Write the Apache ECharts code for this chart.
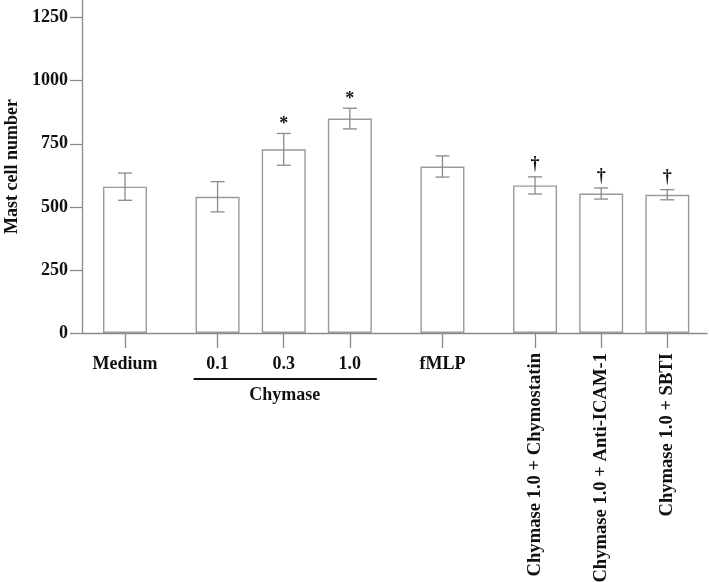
<!DOCTYPE html>
<html>
<head>
<meta charset="utf-8">
<script src="https://cdn.jsdelivr.net/npm/echarts@6/dist/echarts.min.js"></script>
<style>html,body{margin:0;padding:0;background:#fff}#c{width:709px;height:582px}</style>
</head>
<body>
<div id="c"></div>
<script>
// ---- data ----
const categories = ['Medium', '0.1', '0.3', '1.0', 'fMLP',
  'Chymase 1.0 + Chymostatin', 'Chymase 1.0 + Anti-ICAM-1', 'Chymase 1.0 + SBTI'];
const means  = [580, 540, 728, 850, 660, 585, 553, 548];
const errors = [54, 60, 63, 41, 42, 34, 22, 20];
const marks  = ['', '', '*', '*', '', '†', '†', '†'];
const groupIds = [0, 1, 1, 1, 2, 3, 3, 3];
const groupLabels = { 1: 'Chymase' };
const rotatedLabel = [false, false, false, false, false, true, true, true];
const yTicks = [0, 250, 500, 750, 1000, 1250];

// ---- layout (code, not data) ----
const pos = [];
let p = 0;
for (let i = 0; i < categories.length; i++) {
  if (i > 0) p += (groupIds[i] === groupIds[i - 1]) ? 5 : 7;
  pos.push(p);
}
const nameAt = {};
pos.forEach((x, i) => nameAt[x] = categories[i]);
const flatPos = pos.filter((x, i) => !rotatedLabel[i]);
const rotPos = pos.filter((x, i) => rotatedLabel[i]);

const brackets = [];
Object.keys(groupLabels).forEach(g => {
  const idx = groupIds.map((v, i) => v == g ? i : -1).filter(i => i >= 0);
  brackets.push([pos[idx[0]], pos[idx[idx.length - 1]], groupLabels[g]]);
});

const FONT = 'Liberation Serif';
const GREY = '#8a8a8a';
const chart = echarts.init(document.getElementById('c'), null, { renderer: 'canvas' });

chart.setOption({
  animation: false,
  backgroundColor: '#fff',
  grid: { left: 82, right: 2, top: 0, bottom: 249, containLabel: false, outerBoundsMode: 'none' },
  xAxis: [{
    type: 'value', min: -3.25, max: 44,
    splitLine: { show: false },
    axisLine: { show: true, onZero: false, lineStyle: { color: GREY, width: 1.3 } },
    axisTick: { show: true, customValues: pos, length: 15, lineStyle: { color: GREY, width: 1.3 } },
    axisLabel: {
      customValues: flatPos, margin: 22,
      formatter: v => nameAt[v] || '',
      fontFamily: FONT, fontWeight: 'bold', fontSize: 18, color: '#111'
    }
  }, {
    type: 'value', min: -3.25, max: 44, position: 'bottom',
    splitLine: { show: false },
    axisLine: { show: false, onZero: false }, axisTick: { show: false },
    axisLabel: {
      customValues: rotPos, margin: 20, rotate: 90,
      formatter: v => nameAt[v] || '',
      fontFamily: FONT, fontWeight: 'bold', fontSize: 18.6, color: '#111'
    }
  }],
  yAxis: {
    type: 'value', min: 0, max: 1320,
    name: 'Mast cell number', nameLocation: 'middle', nameGap: 61,
    nameTextStyle: { fontFamily: FONT, fontWeight: 'bold', fontSize: 18, color: '#111' },
    splitLine: { show: false },
    axisLine: { show: true, onZero: false, lineStyle: { color: GREY, width: 1.3 } },
    axisTick: { show: true, customValues: yTicks, length: 12, lineStyle: { color: GREY, width: 1.3 } },
    axisLabel: {
      customValues: yTicks, margin: 14,
      formatter: v => String(v),
      fontFamily: FONT, fontWeight: 'bold', fontSize: 18, color: '#111'
    }
  },
  series: [{
    type: 'bar',
    xAxisIndex: 0,
    barWidth: 44,
    data: means.map((v, i) => [pos[i], v]),
    itemStyle: { color: '#fff', borderColor: '#9a9a9a', borderWidth: 1.4 },
    z: 2
  }, {
    type: 'custom',
    xAxisIndex: 0,
    clip: false,
    data: means.map((v, i) => [pos[i], v - errors[i], v + errors[i], marks[i]]),
    renderItem: (params, api) => {
      const x = api.value(0);
      const lo = api.coord([x, api.value(1)]);
      const hi = api.coord([x, api.value(2)]);
      const cap = 7;
      const st = { stroke: GREY, lineWidth: 1.3 };
      const i = params.dataIndex;
      return {
        type: 'group', children: [
          { type: 'line', shape: { x1: lo[0], y1: lo[1], x2: hi[0], y2: hi[1] }, style: st },
          { type: 'line', shape: { x1: lo[0] - cap, y1: lo[1], x2: lo[0] + cap, y2: lo[1] }, style: st },
          { type: 'line', shape: { x1: hi[0] - cap, y1: hi[1], x2: hi[0] + cap, y2: hi[1] }, style: st },
          { type: 'text', style: { text: marks[i], x: hi[0], y: hi[1] - (marks[i] === '*' ? 0 : 3), align: 'center', verticalAlign: 'bottom',
            font: 'bold 18px "Liberation Serif"', fill: '#111' } }
        ]
      };
    },
    z: 3
  }, {
    type: 'custom',
    xAxisIndex: 0,
    clip: false,
    data: brackets,
    renderItem: (params, api) => {
      const a = api.coord([api.value(0), 0]);
      const b = api.coord([api.value(1), 0]);
      const y = a[1] + 46;
      return {
        type: 'group', children: [
          { type: 'line', shape: { x1: a[0] - 24, y1: y, x2: b[0] + 27, y2: y }, style: { stroke: '#111', lineWidth: 2 } },
          { type: 'text', style: { text: brackets[params.dataIndex][2], x: (a[0] + b[0]) / 2 + 1, y: y + 7,
            align: 'center', verticalAlign: 'top', font: 'bold 18px "Liberation Serif"', fill: '#111' } }
        ]
      };
    },
    z: 3
  }]
});
</script>
</body>
</html>
